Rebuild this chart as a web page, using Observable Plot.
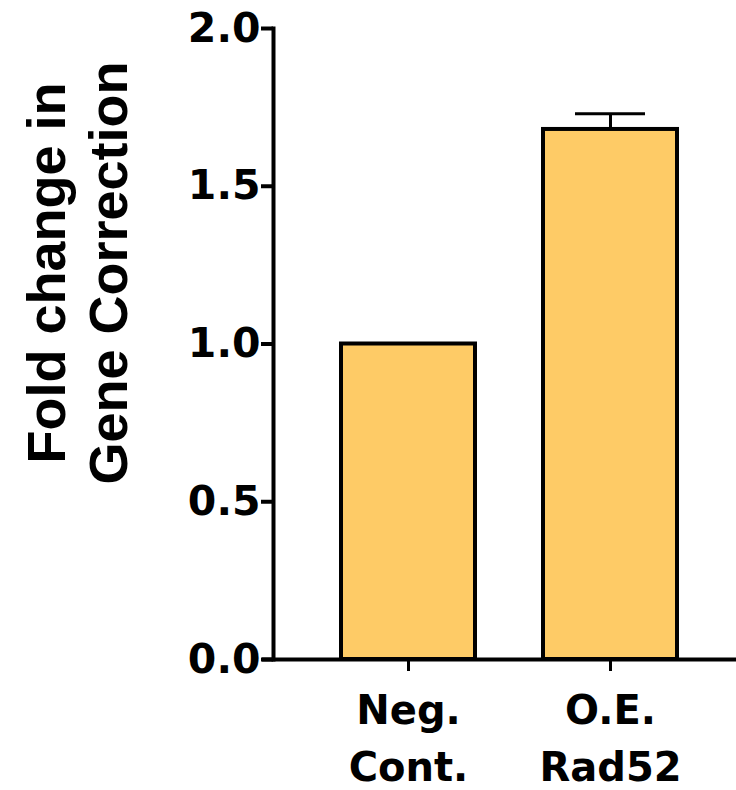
<!DOCTYPE html>
<html>
<head>
<meta charset="utf-8">
<script src="https://cdn.jsdelivr.net/npm/d3@7"></script>
<script src="https://cdn.jsdelivr.net/npm/@observablehq/plot@0.6"></script>
<style>
  html, body { margin: 0; padding: 0; background: #fff; }
</style>
</head>
<body>
<div id="chart"></div>
<script>
const categories = ["Neg. Cont.", "O.E. Rad52"];
const tickLabels = ["Neg.\nCont.", "O.E.\nRad52"];
const means = [1.0, 1.68];
const sems = [0, 0.05];
const yTicks = [0, 0.5, 1.0, 1.5, 2.0];
const yLabel = "Fold change in\nGene Correction";

const data = categories.map((c, i) => ({cat: c, mean: means[i], sem: sems[i]}));
const withErr = data.filter(d => d.sem > 0);

const plot = Plot.plot({
  width: 736,
  height: 790,
  marginLeft: 273,
  marginRight: 0,
  marginTop: 28,
  marginBottom: 131,
  style: {fontFamily: "'DejaVu Sans', sans-serif", fontWeight: "bold", color: "#000", background: "#fff", overflow: "visible"},
  x: {domain: categories, range: [273, 746], paddingInner: 0.335, paddingOuter: 0.333, label: null},
  y: {domain: [0, 2], label: null},
  marks: [
    Plot.ruleX(withErr, {x: "cat", y1: "mean", y2: d => d.mean + d.sem, stroke: "#000", strokeWidth: 3}),
    Plot.tickY(withErr, {x: "cat", y: d => d.mean + d.sem, stroke: "#000", strokeWidth: 3, insetLeft: 32, insetRight: 32}),
    Plot.barY(data, {x: "cat", y: "mean", fill: "#FECB66", stroke: "#000", strokeWidth: 4}),
    Plot.frame({anchor: "left", stroke: "#000", strokeWidth: 4}),
    Plot.ruleY([0], {stroke: "#000", strokeWidth: 4, insetLeft: -11}),
    Plot.axisY({ticks: yTicks, tickFormat: d3.format(".1f"), tickSize: 12, tickPadding: 1, strokeWidth: 4, fontSize: 41, fontWeight: "bold", label: null}),
    Plot.axisX({tickFormat: (d) => tickLabels[categories.indexOf(d)], tickSize: 12, tickPadding: 12, strokeWidth: 3, fontSize: 40, fontWeight: "bold", lineHeight: 1.42, label: null}),
    Plot.text([yLabel], {frameAnchor: "left", textAnchor: "middle", lineAnchor: "middle", rotate: -90, dx: -197, dy: -71, fontSize: 54, lineHeight: 1.15, fontFamily: "'Liberation Sans', Arial, sans-serif", fontWeight: "bold", fill: "#000"})
  ]
});
document.getElementById("chart").appendChild(plot);
</script>
</body>
</html>
